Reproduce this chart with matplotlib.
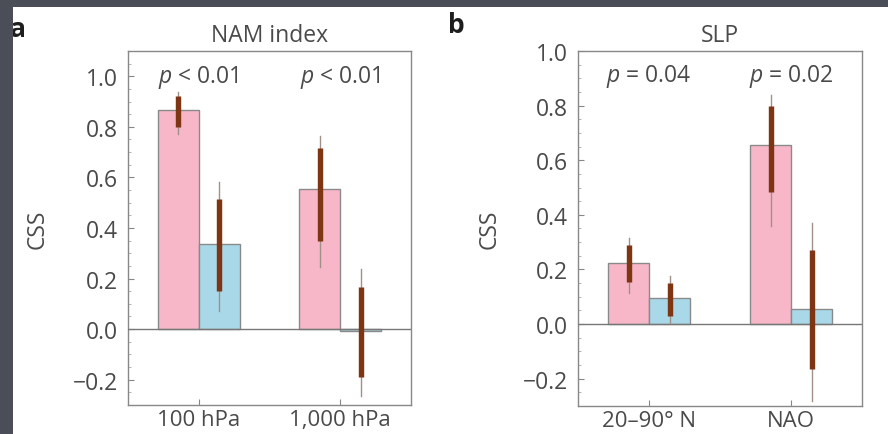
import matplotlib
matplotlib.use("Agg")
import matplotlib.pyplot as plt
import numpy as np
from matplotlib.patches import Rectangle
from matplotlib.ticker import MultipleLocator

plt.rcParams['font.family'] = ['Open Sans', 'DejaVu Sans']
plt.rcParams['mathtext.fontset'] = 'custom'
plt.rcParams['mathtext.it'] = 'Open Sans:italic'
plt.rcParams['mathtext.rm'] = 'Open Sans'

# panel a: NAM index
nam_groups = ["100 hPa", "1,000 hPa"]
nam_pink = [0.866, 0.553]
nam_blue = [0.336, -0.008]
nam_pink_thick = [(0.80, 0.92), (0.348, 0.715)]
nam_pink_thin = [(0.77, 0.937), (0.245, 0.763)]
nam_blue_thick = [(0.15, 0.514), (-0.19, 0.166)]
nam_blue_thin = [(0.07, 0.58), (-0.265, 0.237)]
nam_p = ["$p$ < 0.01", "$p$ < 0.01"]

# panel b: SLP
slp_groups = ["20\u201390\u00b0 N", "NAO"]
slp_pink = [0.225, 0.657]
slp_blue = [0.096, 0.055]
slp_pink_thick = [(0.155, 0.288), (0.483, 0.80)]
slp_pink_thin = [(0.115, 0.314), (0.358, 0.838)]
slp_blue_thick = [(0.03, 0.151), (-0.166, 0.273)]
slp_blue_thin = [(0.003, 0.177), (-0.28, 0.369)]
slp_p = ["$p$ = 0.04", "$p$ = 0.02"]

PINK = '#f8b7c9'
BLUE = '#a9d9e8'
EDGE = '#8a8a8a'
BROWN = '#7e3514'
THIN = '#a09088'
TXT = '#4a4a4a'
FS = 16.5
W = 0.29


def draw_panel(ax, groups, pink, blue, pink_thick, pink_thin, blue_thick, blue_thin,
               ptexts, ylim, ptext_y, title, label_x):
    x = np.arange(len(groups))
    xp = x - W / 2
    xb = x + W / 2
    ax.bar(xp, pink, W, color=PINK, edgecolor=EDGE, linewidth=1.0, zorder=2)
    ax.bar(xb, blue, W, color=BLUE, edgecolor=EDGE, linewidth=1.0, zorder=2)
    ax.axhline(0, color='#777777', lw=1.0, zorder=3)
    # thin line = outer range, thick line = inner range
    for xs, thick, thin in ((xp, pink_thick, pink_thin), (xb, blue_thick, blue_thin)):
        for xi, (t0, t1), (n0, n1) in zip(xs, thick, thin):
            ax.plot([xi, xi], [n0, n1], color=THIN, lw=1.0, zorder=4)
            ax.plot([xi, xi], [t0, t1], color=BROWN, lw=3.9, zorder=5,
                    solid_capstyle='butt')
    for xi, t in zip(x, ptexts):
        ax.text(xi, ptext_y, t, ha='center', va='center', fontsize=FS, color=TXT)
    ax.set_xlim(-0.5, 1.5)
    ax.set_ylim(*ylim)
    ax.set_xticks(x)
    ax.set_xticklabels(groups)
    ax.set_yticks([-0.2, 0.0, 0.2, 0.4, 0.6, 0.8, 1.0])
    ax.set_yticklabels(['\u22120.2', '0.0', '0.2', '0.4', '0.6', '0.8', '1.0'])
    ax.yaxis.set_minor_locator(MultipleLocator(0.05))
    ax.tick_params(axis='both', which='major', direction='in', length=4,
                   width=0.8, color='#888888', labelsize=FS, labelcolor=TXT)
    ax.tick_params(axis='y', which='major', pad=7)
    ax.tick_params(axis='x', which='major', pad=3, labelsize=16)
    ax.tick_params(axis='y', which='minor', direction='in', length=2,
                   width=0.6, color='#aaaaaa')
    for s in ax.spines.values():
        s.set_color('#888888')
        s.set_linewidth(1.0)
    ax.set_ylabel("CSS", fontsize=FS, color=TXT, va='center')
    ax.yaxis.set_label_coords(label_x, 0.5)
    ax.set_title(title, fontsize=FS, color=TXT, pad=7)


fig = plt.figure(figsize=(8.88, 4.35), dpi=100, facecolor='white')

ax1 = fig.add_axes([0.144, 0.0667, 0.319, 0.8138])
ax2 = fig.add_axes([0.651, 0.0644, 0.320, 0.8161])

draw_panel(ax1, nam_groups, nam_pink, nam_blue, nam_pink_thick, nam_pink_thin,
           nam_blue_thick, nam_blue_thin, nam_p, (-0.3, 1.1), 1.0, "NAM index", -0.32)
draw_panel(ax2, slp_groups, slp_pink, slp_blue, slp_pink_thick, slp_pink_thin,
           slp_blue_thick, slp_blue_thin, slp_p, (-0.3, 1.0), 0.91, "SLP", -0.313)

fig.text(10 / 888, 1 - 37 / 435, "a", fontsize=19, fontweight='bold',
         color='#1e1e1e', ha='left', va='baseline')
fig.text(448 / 888, 1 - 33 / 435, "b", fontsize=19, fontweight='bold',
         color='#1e1e1e', ha='left', va='baseline')

# dark frame strips on the left and top edges
DARK = '#4b4e56'
fig.patches.append(Rectangle((0, 0), 13 / 888, 1, transform=fig.transFigure,
                             facecolor=DARK, edgecolor='none', zorder=20))
fig.patches.append(Rectangle((0, 1 - 8 / 435), 1, 8 / 435, transform=fig.transFigure,
                             facecolor=DARK, edgecolor='none', zorder=20))

fig.savefig("out.png", dpi=100)
